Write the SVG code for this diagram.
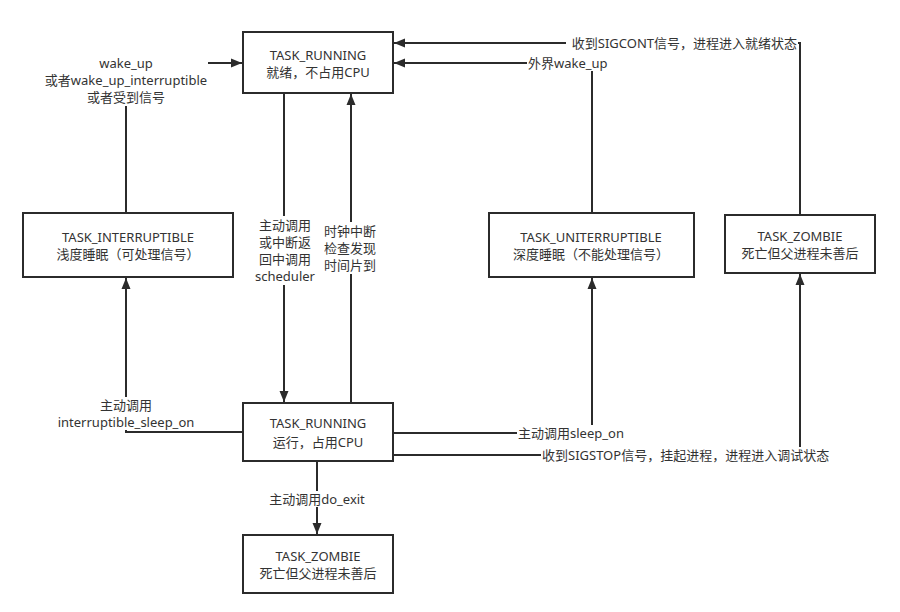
<svg xmlns="http://www.w3.org/2000/svg" width="900" height="612" viewBox="0 0 900 612">
<style>
  .box { fill: #ffffff; stroke: #2b2b2b; stroke-width: 2; }
  .edge { fill: none; stroke: #2b2b2b; stroke-width: 2; }
  .t { font-family: "Noto Sans", "Noto Sans CJK SC", sans-serif; font-size: 13px; fill: #333333; }
  .c { text-anchor: middle; }
  .e { text-anchor: end; }
  .bg { fill: #ffffff; stroke: none; }
</style>
<defs>
  <marker id="arr" markerUnits="userSpaceOnUse" markerWidth="12" markerHeight="12" viewBox="0 0 12 12" refX="11" refY="6" orient="auto">
    <path d="M0,1.5 L11,6 L0,10.5 Z" fill="#2b2b2b"/>
  </marker>
</defs>
<rect width="900" height="612" fill="#ffffff"/>

<g id="connectors">
  <path class="edge" d="M126,213 V63 H242" marker-end="url(#arr)"/>
  <path class="edge" d="M284,93 V402" marker-end="url(#arr)"/>
  <path class="edge" d="M351,403 V94" marker-end="url(#arr)"/>
  <path class="edge" d="M592,213 V63 H394" marker-end="url(#arr)"/>
  <path class="edge" d="M800,215 V43 H394" marker-end="url(#arr)"/>
  <path class="edge" d="M243,432 H126 V278" marker-end="url(#arr)"/>
  <path class="edge" d="M393,433 H592 V278" marker-end="url(#arr)"/>
  <path class="edge" d="M393,455 H800 V274" marker-end="url(#arr)"/>
  <path class="edge" d="M317,461 V534" marker-end="url(#arr)"/>

  <g id="label-wakeup">
    <rect class="bg" x="44" y="55" width="164" height="51"/>
    <text class="t c" x="126" y="67.5">wake_up</text>
    <text class="t c" x="126" y="84.5">或者wake_up_interruptible</text>
    <text class="t c" x="126" y="101.5">或者受到信号</text>
  </g>
  <g id="label-schedule">
    <rect class="bg" x="253" y="216" width="64" height="69"/>
    <text class="t c" x="285" y="229.5">主动调用</text>
    <text class="t c" x="285" y="246.5">或中断返</text>
    <text class="t c" x="285" y="263.5">回中调用</text>
    <text class="t c" x="285" y="280.5">scheduler</text>
  </g>
  <g id="label-timer">
    <rect class="bg" x="322" y="222" width="56" height="52"/>
    <text class="t c" x="350" y="235.5">时钟中断</text>
    <text class="t c" x="350" y="252.5">检查发现</text>
    <text class="t c" x="350" y="269.5">时间片到</text>
  </g>
  <g id="label-extwake">
    <rect class="bg" x="527" y="55" width="84" height="16"/>
    <text class="t" x="528" y="67.5">外界wake_up</text>
  </g>
  <g id="label-sigcont">
    <rect class="bg" x="566" y="35" width="232" height="16"/>
    <text class="t e" x="797" y="47.5">收到SIGCONT信号，进程进入就绪状态</text>
  </g>
  <g id="label-isleep">
    <rect class="bg" x="55" y="397" width="142" height="33"/>
    <text class="t c" x="126" y="409.5">主动调用</text>
    <text class="t c" x="126" y="426.5">interruptible_sleep_on</text>
  </g>
  <g id="label-sleep">
    <rect class="bg" x="517" y="425" width="110" height="16"/>
    <text class="t" x="518" y="437.5">主动调用sleep_on</text>
  </g>
  <g id="label-sigstop">
    <rect class="bg" x="541" y="447" width="292" height="16"/>
    <text class="t" x="542" y="459.5">收到SIGSTOP信号，挂起进程，进程进入调试状态</text>
  </g>
  <g id="label-exit">
    <rect class="bg" x="266" y="491" width="102" height="16"/>
    <text class="t c" x="317" y="503.5">主动调用do_exit</text>
  </g>
</g>

<g id="node-running-ready">
  <rect class="box" x="243" y="32" width="150" height="61"/>
  <text class="t c" x="318" y="59.5">TASK_RUNNING</text>
  <text class="t c" x="318" y="76.5">就绪，不占用CPU</text>
</g>
<g id="node-interruptible">
  <rect class="box" x="23" y="213" width="210" height="64"/>
  <text class="t c" x="128" y="241.5">TASK_INTERRUPTIBLE</text>
  <text class="t c" x="128" y="258.5">浅度睡眠（可处理信号）</text>
</g>
<g id="node-uninterruptible">
  <rect class="box" x="489" y="213" width="205" height="64"/>
  <text class="t c" x="591" y="241.5">TASK_UNITERRUPTIBLE</text>
  <text class="t c" x="591" y="258.5">深度睡眠（不能处理信号）</text>
</g>
<g id="node-zombie-right">
  <rect class="box" x="725" y="215" width="150" height="58"/>
  <text class="t c" x="800" y="240.5">TASK_ZOMBIE</text>
  <text class="t c" x="800" y="257.5">死亡但父进程未善后</text>
</g>
<g id="node-running-cpu">
  <rect class="box" x="243" y="403" width="150" height="58"/>
  <text class="t c" x="318" y="427.5">TASK_RUNNING</text>
  <text class="t c" x="318" y="446.5">运行，占用CPU</text>
</g>
<g id="node-zombie-bottom">
  <rect class="box" x="243" y="535" width="150" height="58"/>
  <text class="t c" x="318" y="560.5">TASK_ZOMBIE</text>
  <text class="t c" x="318" y="577.5">死亡但父进程未善后</text>
</g>
</svg>
